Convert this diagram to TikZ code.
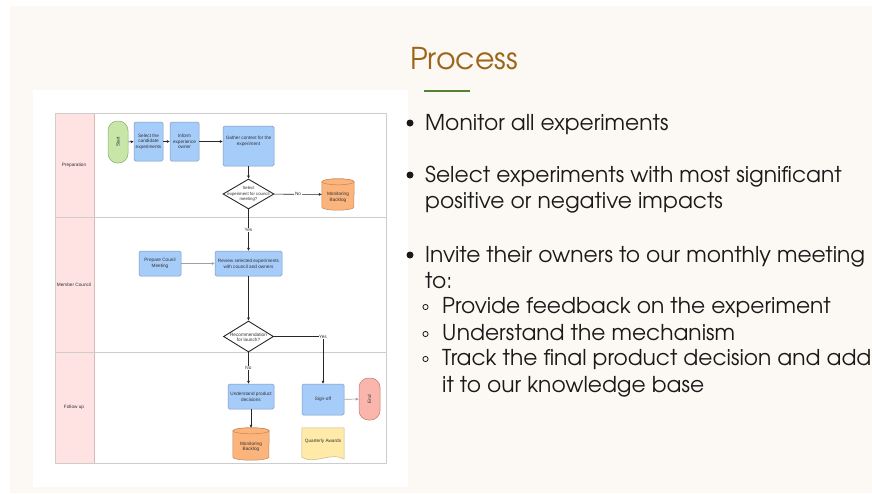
\documentclass[tikz,border=0pt]{standalone}
\usepackage{fontspec}
\newfontfamily\difont{Liberation Sans}
\newfontfamily\slfont{TeX Gyre Adventor}
\usetikzlibrary{shapes.geometric,arrows.meta,backgrounds}
\definecolor{cream}{RGB}{252,249,244}
\definecolor{pinkf}{RGB}{255,226,226}
\definecolor{pinkb}{RGB}{214,186,186}
\definecolor{laneg}{RGB}{205,205,205}
\definecolor{bluef}{RGB}{166,204,250}
\definecolor{blueb}{RGB}{125,152,190}
\definecolor{greenf}{RGB}{199,230,167}
\definecolor{greenb}{RGB}{140,172,110}
\definecolor{orangef}{RGB}{252,180,125}
\definecolor{orangeb}{RGB}{200,132,82}
\definecolor{redf}{RGB}{250,182,172}
\definecolor{redb}{RGB}{198,122,112}
\definecolor{yellowf}{RGB}{255,234,168}
\definecolor{yellowb}{RGB}{200,186,132}
\definecolor{dtxt}{RGB}{51,51,51}
\definecolor{dline}{RGB}{40,40,40}
\definecolor{lline}{RGB}{160,160,160}
\definecolor{titlec}{RGB}{156,101,25}
\definecolor{rulec}{RGB}{84,130,53}
\definecolor{stxt}{RGB}{25,25,25}
\begin{document}
\begin{tikzpicture}[x=1pt,y=1pt,
  dtext/.style={font=\difont\fontsize{4.7}{5.7}\selectfont, text=dtxt, align=center},
  proc/.style={rectangle, rounded corners=1.5pt, draw=blueb, fill=bluef, line width=0.5pt, inner sep=0pt, dtext},
  term/.style={rectangle, rounded corners=9.5pt, line width=0.5pt, inner sep=0pt},
  dec/.style={diamond, draw=dline, fill=white, line width=0.9pt, inner sep=0pt},
  hold/.style={rectangle, inner sep=0pt, dtext},
  conn/.style={draw=dline, line width=0.6pt, -{Triangle[length=3pt,width=2.6pt]}},
  lconn/.style={conn, draw=lline},
  elab/.style={dtext, fill=white, inner sep=0.6pt},
  lane/.style={draw=laneg, line width=0.9pt},
  stext/.style={font=\slfont\fontsize{21.8}{26}\selectfont, text=stxt, anchor=base west, inner sep=0pt},
  cyl/.style={fill=orangef, draw=orangeb, line width=0.5pt}
]
\useasboundingbox (0,0) rectangle (872,-493);
\begin{pgfonlayer}{background}
  \fill[white] (0,0) rectangle (872,-493);
  \fill[cream] (10,-6) rectangle (872,-493);
  \fill[white] (33,-90) rectangle (408,-487);
  \fill[pinkf] (55,-113) rectangle (94,-463);
  \draw[lane] (55,-113) rectangle (386,-463);
  \draw[draw=pinkb, line width=0.8pt] (94,-113) -- (94,-463);
  \draw[lane] (55,-217) -- (386,-217);
  \draw[lane] (55,-352) -- (386,-352);
\end{pgfonlayer}

% lane labels
\node[dtext] (lp) at (74,-165) {Preparation};
\node[dtext] (lm) at (74,-285) {Member Council};
\node[dtext] (lf) at (74,-407) {Follow up};

% nodes
\node[term, draw=greenb, fill=greenf, minimum width=20pt, minimum height=42pt,
      label={[dtext,rotate=90]center:Start}] (start) at (118,-142) {};
\node[proc, minimum width=29pt, minimum height=39pt] (sel) at (148.5,-141.5) {Select the\\candidate\\experiments};
\node[proc, minimum width=29pt, minimum height=39pt] (inf) at (184.5,-141.5) {Inform\\experience\\owner};
\node[proc, minimum width=51pt, minimum height=40pt,
      label={[dtext,yshift=5pt]center:Gather context for the\\experiment}] (gat) at (248.5,-146) {};
\node[dec, minimum width=51pt, minimum height=30pt,
      label={[dtext,font=\difont\fontsize{4.3}{5.3}\selectfont]center:Select\\experiment for council\\meeting?}] (d1) at (248.5,-194) {};
\node[hold, minimum width=32pt, minimum height=31pt,
      label={[dtext,yshift=-2.5pt]center:Monitoring\\Backlog}] (b1) at (338,-194.5) {};

\node[proc, minimum width=42pt, minimum height=25pt] (prep) at (160,-263.5) {Prepare Counil\\Meeting};
\node[proc, minimum width=67pt, minimum height=25pt] (rev) at (248.5,-263.5) {Review selected experiments\\with council and owners};
\node[dec, minimum width=50pt, minimum height=31pt,
      label={[dtext,yshift=-0.8pt]center:Recommendation\\for launch?}] (d2) at (248.5,-336.5) {};

\node[proc, minimum width=46pt, minimum height=25pt] (und) at (251,-396.5) {Understand product\\decisions};
\node[hold, minimum width=36pt, minimum height=32pt,
      label={[dtext,yshift=-2.7pt]center:Monitoring\\Backlog}] (b2) at (251,-444) {};
\node[proc, minimum width=42pt, minimum height=31pt] (sig) at (323,-399.5) {Sign-off};
\node[term, draw=redb, fill=redf, minimum width=21pt, minimum height=42pt,
      label={[dtext,rotate=90]center:End}] (endn) at (369.5,-399) {};
\node[hold, minimum width=42pt, minimum height=32pt,
      label={[dtext,yshift=3pt]center:Quarterly Awards}] (qa) at (323,-444) {};

% shapes drawn behind the holder nodes
\begin{pgfonlayer}{background}
  \foreach \n/\r in {b1/16,b2/18}{
    \path[cyl] ([yshift=-3pt]\n.north west) -- ([yshift=3pt]\n.south west)
      arc[start angle=180,end angle=360,x radius=\r pt,y radius=3pt]
      -- ([yshift=-3pt]\n.north east)
      arc[start angle=0,end angle=180,x radius=\r pt,y radius=3pt] -- cycle;
    \draw[cyl] ([yshift=-3pt]\n.north) ellipse[x radius=\r pt,y radius=3pt];
  }
  \path[fill=yellowf, draw=yellowb, line width=0.5pt]
    (qa.north west) -- (qa.north east) -- ([yshift=1pt]qa.south east)
    .. controls ([xshift=-12pt,yshift=9pt]qa.south east) and ([xshift=12pt,yshift=-5pt]qa.south west)
    .. ([yshift=3pt]qa.south west) -- cycle;
\end{pgfonlayer}

% connectors
\draw[conn] (start) -- (sel);
\draw[conn] (sel) -- (inf);
\draw[conn] (inf.east) -- (inf.east -| gat.west);
\draw[conn] (gat) -- (d1);
\draw[conn] (d1) -- node[elab]{No} (b1);
\draw[conn] (d1) -- node[elab]{Yes} (rev);
\draw[lconn] (prep) -- (rev);
\draw[conn] (rev) -- (d2);
\draw[conn] (d2.east) -| node[elab,pos=0.5]{Yes} (sig.north);
\draw[conn] (d2.south) -- node[elab]{No} (d2.south |- und.north);
\draw[conn] (und) -- (b2);
\draw[lconn] (sig) -- (endn);

% right side text
\node[anchor=base west, inner sep=0pt, font=\slfont\fontsize{30}{36}\selectfont, text=titlec] (title) at (410,-69) {Process};
\draw[rulec, line width=1.4pt] (424,-91) -- (470,-91);

\fill[stxt] (410,-123) circle (3.5);
\node[stext] (t1) at (425,-130) {Monitor all experiments};
\fill[stxt] (410,-175) circle (3.5);
\node[stext] (t2a) at (425,-182) {Select experiments with most significant};
\node[stext] (t2b) at (425,-208) {positive or negative impacts};
\fill[stxt] (410,-255) circle (3.5);
\node[stext] (t3a) at (425,-262) {Invite their owners to our monthly meeting};
\node[stext] (t3b) at (425,-288) {to:};
\draw[stxt, line width=0.8pt] (425.5,-307) circle (2.6);
\node[stext] (s1) at (442,-313) {Provide feedback on the experiment};
\draw[stxt, line width=0.8pt] (425.5,-334) circle (2.6);
\node[stext] (s2) at (442,-340) {Understand the mechanism};
\draw[stxt, line width=0.8pt] (425.5,-359) circle (2.6);
\node[stext] (s3a) at (442,-365) {Track the final product decision and add};
\node[stext] (s3b) at (442,-392) {it to our knowledge base};
\end{tikzpicture}
\end{document}
